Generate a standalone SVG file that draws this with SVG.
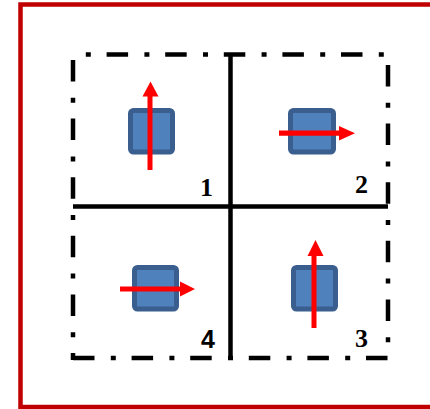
<svg xmlns="http://www.w3.org/2000/svg" width="430" height="409" viewBox="0 0 430 409">
<defs>
<style>
.frame{fill:none;stroke:#C00000;stroke-width:4.5}
.dd{fill:none;stroke:#000;stroke-width:4.5;stroke-dasharray:21.5 16.3 5 15.8}
.axis{fill:none;stroke:#000;stroke-width:4.5}
.box{fill:#4F81BD;stroke:#3A5E8E;stroke-width:5}
.arrow{fill:#FF0000;stroke:none}
.num{font-family:"Liberation Serif","Times New Roman",serif;font-weight:bold;font-size:26px;fill:#000}
.sans{font-family:"Liberation Sans",Arial,sans-serif;font-weight:bold;font-size:25px;fill:#000}
</style>
</defs>
<rect class="frame" x="20.5" y="4.5" width="425" height="402.5"/>
<g id="connectors">
<path class="dd" d="M73 54.5 H388" stroke-dashoffset="25"/>
<path class="dd" d="M73 54.5 V360" stroke-dashoffset="-5.5"/>
<path class="dd" d="M388 54.5 V358" stroke-dashoffset="-10.5"/>
<path class="dd" d="M71 358 H390" stroke-dashoffset="-2"/>
<path class="axis" d="M230.5 54 V359"/>
<path class="axis" d="M73 206.5 H388"/>
</g>
<g id="node1">
<rect class="box" x="130.5" y="110.5" width="42" height="41.5" rx="3"/>
<path class="arrow" d="M147.5 170 V96.5 H142.5 L150.5 81.5 L158.5 96.5 H152.5 V170 Z"/>
<text class="num" x="200" y="196">1</text>
</g>
<g id="node2">
<rect class="box" x="290.5" y="110.5" width="43" height="41.5" rx="3"/>
<path class="arrow" d="M279 130.5 H339 V126 L355 133.2 L339 140.5 V135.8 H279 Z"/>
<text class="num" x="355" y="193">2</text>
</g>
<g id="node3">
<rect class="box" x="293.5" y="267.5" width="42" height="41.5" rx="3"/>
<path class="arrow" d="M311.5 328 V256 H307.5 L315.5 240 L323.5 256 H316.5 V328 Z"/>
<text class="num" x="355" y="347">3</text>
</g>
<g id="node4">
<rect class="box" x="134.5" y="267.5" width="42" height="41.5" rx="3"/>
<path class="arrow" d="M120 286.5 H180 V281.5 L195 289 L180 296.5 V291.5 H120 Z"/>
<text class="sans" x="201" y="348">4</text>
</g>
</svg>
